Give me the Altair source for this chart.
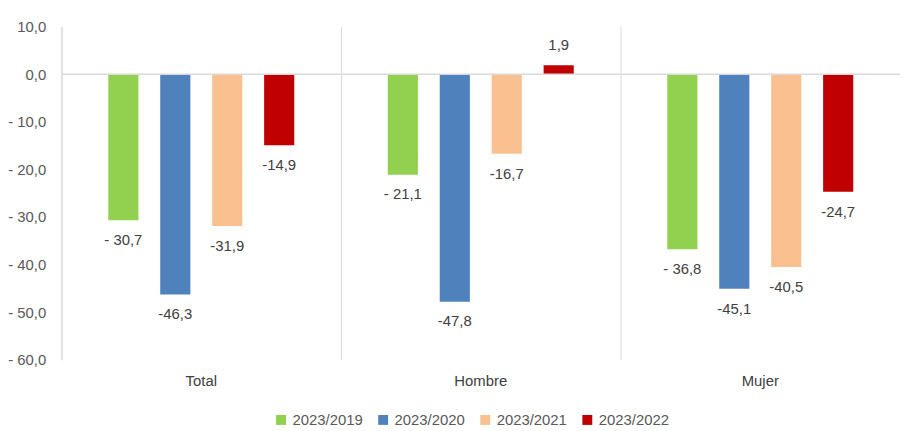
import altair as alt
import pandas as pd

categories = ["Total", "Hombre", "Mujer"]
series = ["2023/2019", "2023/2020", "2023/2021", "2023/2022"]
colors = ["#92D050", "#4F81BD", "#FAC090", "#C00000"]
v_2019 = [-30.7, -21.1, -36.8]
v_2020 = [-46.3, -47.8, -45.1]
v_2021 = [-31.9, -16.7, -40.5]
v_2022 = [-14.9, 1.9, -24.7]
values = [v_2019, v_2020, v_2021, v_2022]

rows = []
for si, s in enumerate(series):
    for ci, c in enumerate(categories):
        v = values[si][ci]
        txt = f"{abs(v):.1f}".replace(".", ",")
        if v < 0:
            txt = ("- " if si == 0 else "-") + txt
        rows.append({"cat": c, "serie": s, "valor": v, "label": txt})
df = pd.DataFrame(rows)

FONT = "Liberation Sans"
GRAY = "#D9D9D9"
FS = 15

x = alt.X("cat:N", sort=categories, title=None,
          scale=alt.Scale(paddingInner=0, paddingOuter=0),
          axis=alt.Axis(domain=False, ticks=False, grid=True, bandPosition=0,
                        gridColor=GRAY, gridWidth=1, labelAngle=0,
                        labelFont=FONT, labelFontSize=FS, labelColor="#404040",
                        labelPadding=14))
xo = alt.XOffset("serie:N", sort=series,
                 scale=alt.Scale(paddingInner=0.42, paddingOuter=0.9))
y = alt.Y("valor:Q", title=None,
          scale=alt.Scale(domain=[-60, 10], nice=False, zero=False),
          axis=alt.Axis(values=list(range(-60, 11, 10)), grid=False, ticks=False,
                        domainColor=GRAY, domainWidth=1,
                        labelFont=FONT, labelFontSize=FS, labelColor="#595959",
                        labelPadding=16,
                        labelExpr="(datum.value < 0 ? '- ' : '') + replace(format(abs(datum.value), '.1f'), '.', ',')"))

base = alt.Chart(df)

bars = base.mark_bar().encode(
    x=x, xOffset=xo, y=y,
    color=alt.Color("serie:N", sort=series,
                    scale=alt.Scale(domain=series, range=colors),
                    legend=alt.Legend(title=None, orient="none", direction="horizontal",
                                      legendX=214, legendY=389, symbolType="square",
                                      symbolSize=100, symbolStrokeWidth=0,
                                      labelFont=FONT, labelFontSize=FS,
                                      labelColor="#595959", columnPadding=13,
                                      symbolOffset=0, labelOffset=4)),
)

zero = alt.Chart(pd.DataFrame({"z": [0]})).mark_rule(color=GRAY, strokeWidth=1.5).encode(
    y=alt.Y("z:Q", scale=alt.Scale(domain=[-60, 10], nice=False))
)

lab_neg = base.transform_filter("datum.valor < 0").mark_text(
    dy=20, font=FONT, fontSize=FS, color="#404040", baseline="middle"
).encode(x=x, xOffset=xo, y=y, text="label:N")

lab_pos = base.transform_filter("datum.valor >= 0").mark_text(
    dy=-20, font=FONT, fontSize=FS, color="#404040", baseline="middle"
).encode(x=x, xOffset=xo, y=y, text="label:N")

chart = alt.layer(bars, zero, lab_neg, lab_pos).properties(
    width=846, height=336,
    background="white",
    autosize=alt.AutoSizeParams(type="none"),
    padding={"left": 54, "top": 17, "right": 2, "bottom": 68},
).configure_view(stroke=None)

chart.save("out.html", embed_options={"renderer": "svg", "actions": False})
